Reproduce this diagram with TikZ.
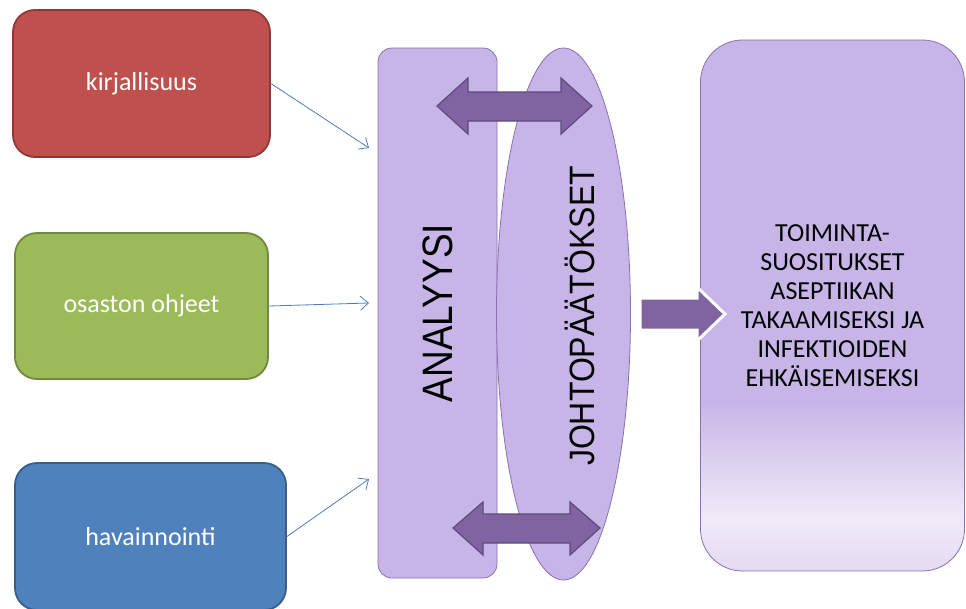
\documentclass[tikz,border=0pt]{standalone}
\usepackage{fontspec}
\setmainfont{Carlito}
\newfontfamily\arialfont{Liberation Sans}
\usetikzlibrary{positioning,shapes.geometric,arrows.meta}

\definecolor{redfill}{HTML}{C0504D}
\definecolor{redline}{HTML}{8C3A38}
\definecolor{greenfill}{HTML}{9BBB59}
\definecolor{greenline}{HTML}{71893F}
\definecolor{bluefill}{HTML}{4F81BD}
\definecolor{blueline}{HTML}{385D8A}
\definecolor{feedblue}{HTML}{4A7EC0}
\definecolor{lilac}{HTML}{C8B5E8}
\definecolor{lilacline}{HTML}{8A70B0}
\definecolor{recpale}{HTML}{F0EAF8}
\definecolor{recbot}{HTML}{E4DAF2}
\definecolor{arrowfill}{HTML}{8064A2}
\definecolor{arrowline}{HTML}{5E4A7C}

\pgfdeclareverticalshading{recshade}{100bp}{color(0bp)=(recbot); color(25bp)=(recbot); color(30bp)=(recpale); color(41bp)=(lilac); color(100bp)=(lilac)}

\begin{document}
\begin{tikzpicture}[x=1pt, y=-1pt,
  srcbox/.style={rectangle, rounded corners=22pt, line width=1.8pt, text=white,
    font=\fontsize{26}{30}\selectfont, inner sep=0pt},
  feed/.style={draw=feedblue, line width=0.8pt, -{Straight Barb[length=8pt,width=14pt]}},
  lilacbox/.style={draw=lilacline, fill=lilac, line width=0.8pt, inner sep=0pt},
  dblarrow/.style={fill=arrowfill, draw=arrowline, line width=1.2pt, line join=miter}]
  \fill[white] (0,0) rectangle (966,608);
  \useasboundingbox (0,0) rectangle (966,608);

  % sources
  \node[srcbox, fill=redfill, draw=redline, minimum width=257pt, minimum height=147pt] (kirj) at (141.5,83.5) {kirjallisuus};
  \node[srcbox, fill=greenfill, draw=greenline, minimum width=253pt, minimum height=146pt] (ohj) at (141.5,306) {osaston ohjeet};
  \node[srcbox, fill=bluefill, draw=blueline, minimum width=271pt, minimum height=147pt] (hav) at (150.5,536.5) {havainnointi};

  \coordinate (in1) at (369,148);
  \coordinate (in2) at (369,303);
  \coordinate (in3) at (369,479);
  \foreach \src/\dst in {kirj/in1, ohj/in2, hav/in3}
    \draw[feed] (\src.east) -- (\dst);

  % analyysi + johtopaatokset
  \node[lilacbox, rounded corners=14pt, rotate=90, minimum width=530pt, minimum height=119pt,
    font=\arialfont\fontsize{37}{40}\selectfont] (ana) at (437.5,313) {\scalebox{1}[1.15]{ANALYYSI}};
  \node[lilacbox, ellipse, minimum width=134pt, minimum height=532pt] (jp) at (563.5,314) {};
  \node[rotate=90, font=\arialfont\fontsize{32}{36}\selectfont] (jptext) at (580,316) {\scalebox{1}[1.1]{JOHTOPÄÄTÖKSET}};

  \draw[dblarrow] (437,106) -- (468,78) -- (468,92) -- (561,92) -- (561,78) -- (592,106)
    -- (561,134) -- (561,121) -- (468,121) -- (468,134) -- cycle;
  \draw[dblarrow] (453,528) -- (483,502) -- (483,514) -- (570,514) -- (570,502) -- (600,528)
    -- (570,555) -- (570,543) -- (483,543) -- (483,555) -- cycle;

  % result
  \node[draw=lilacline, line width=0.8pt, shading=recshade, rounded corners=42pt,
    minimum width=264pt, minimum height=531pt, inner sep=0pt, align=center,
    font=\fontsize{26}{29}\selectfont] (suos) at (832.5,305.5)
    {TOIMINTA-\\SUOSITUKSET\\ASEPTIIKAN\\TAKAAMISEKSI JA\\INFEKTIOIDEN\\EHKÄISEMISEKSI};

  \draw[fill=arrowfill, draw=white, line width=3pt, line join=miter] (640,298) -- (697,298) -- (697,287)
    -- (725,314) -- (697,341) -- (697,330) -- (640,330) -- cycle;
\end{tikzpicture}
\end{document}
